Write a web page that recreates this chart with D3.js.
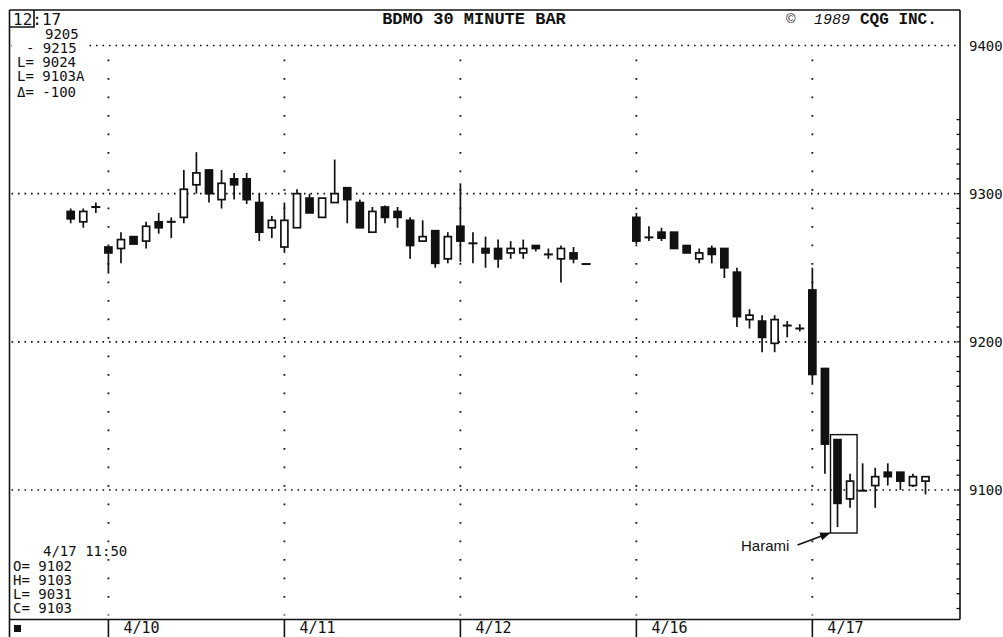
<!DOCTYPE html>
<html><head><meta charset="utf-8">
<script src="https://cdn.jsdelivr.net/npm/d3@7"></script>
<style>body{margin:0;background:#fff}svg{display:block}</style>
</head><body>
<svg id="c" width="1003" height="637"></svg>
<script>
// ---- data (30-minute bars; slot = bar position on the time axis) ----
const slots  = [0,1,2,3,4,5,6,7,8,9,10,11,12,13,14,15,16,17,18,19,20,21,22,23,24,25,26,27,28,29,30,31,32,33,34,35,36,37,38,39,40,41,45,46,47,48,49,50,51,52,53,54,55,56,57,58,59,60,61,62,63,64,65,66,67,68];
const opens  = [9288,9281,9291,9264,9263,9271,9268,9281,9281,9284,9306,9316,9296,9310,9310,9294,9277,9264,9277,9297,9284,9294,9304,9294,9274,9291,9288,9282,9268,9275,9256,9278,9266.5,9263,9263,9260,9260,9265,9259,9256,9260,9252.5,9284,9270.5,9274,9274,9265,9256,9263,9263,9247,9215,9214,9199,9211,9209,9235,9182,9134,9094,9099.5,9103,9112,9112,9103,9106];
const highs  = [9290,9290,9294,9264,9274,9271,9281,9287,9284,9316,9328,9316,9316,9314,9314,9300,9285,9294,9303,9300,9297,9323,9304,9296,9291,9292,9291,9284,9282,9275,9274,9307,9274,9271,9269,9268,9269,9265,9263,9265,9264,9252.5,9287,9278,9277,9274,9265,9263,9265,9263,9250,9222,9218,9218,9214,9212,9250,9182,9134,9111,9118,9115,9118,9112,9111,9109];
const lows   = [9280,9277,9287,9246,9253,9266,9263,9273,9270,9280,9300,9294,9290,9296,9293,9268,9270,9260,9277,9287,9284,9294,9280,9277,9274,9280,9277,9256,9268,9250,9253,9254,9253,9250,9250,9256,9256,9261,9256,9240,9253,9252.5,9266,9268,9268,9263,9260,9253,9253,9243,9210,9209,9193,9193,9203,9207,9171,9111,9075,9088,9099.5,9088,9103,9100,9102,9097];
const closes = [9283,9288,9291,9260,9269,9266,9278,9277,9281,9303,9314,9300,9307,9306,9296,9274,9282,9282,9300,9287,9297,9300,9296,9277,9288,9284,9284,9265,9271,9253,9271,9268,9266.5,9260,9256,9263,9263,9263,9259,9263,9256,9252.5,9268,9270.5,9270,9263,9260,9260,9259,9250,9217,9218,9203,9215,9211,9209,9178,9131,9091,9106,9099.5,9109,9109,9106,9109,9109];

const dayStarts  = [3,17,31,45,59];
const dayLabels  = ["4/10","4/11","4/12","4/16","4/17"];
const priceGrid  = [9100,9200,9300,9400];
const priceLabels= ["9100","9200","9300","9400"];
const infoTop    = ["9205","- 9215","L= 9024","L= 9103A","Δ= -100"];
const infoBottom = ["4/17 11:50","O= 9102","H= 9103","L= 9031","C= 9103"];
const clockText  = "12:17";
const titleText  = "BDMO 30 MINUTE BAR";
const haramiSlots = [61,62];
const haramiLabel = "Harami";

// ---- layout ----
const svg = d3.select("#c");
const L = 9.5, R = 960, T = 10, B = 619.5;
const x = d3.scaleLinear().domain([0,68]).range([70.7,925.5]);
const y = d3.scaleLinear().domain([9100,9400]).range([490,45.5]);
const mono = "'DejaVu Sans Mono', monospace";
const cour = "'Liberation Mono', 'Courier New', monospace";

svg.append("rect").attr("width",1003).attr("height",637).attr("fill","#fff");

// horizontal dotted grid
svg.append("g").selectAll("line").data(priceGrid).join("line")
  .attr("x1",L+2).attr("x2",R-4)
  .attr("y1",d=>y(d)).attr("y2",d=>y(d))
  .attr("stroke","#111").attr("stroke-width",1.6).attr("stroke-dasharray","1.6,4.9");

// vertical dotted day separators
svg.append("g").selectAll("line").data(dayStarts).join("line")
  .attr("x1",d=>x(d)).attr("x2",d=>x(d))
  .attr("y1",y(9400)+14).attr("y2",B-4)
  .attr("stroke","#111").attr("stroke-width",1.8).attr("stroke-dasharray","1.8,16.7");

// frame
const fr = svg.append("g").attr("stroke","#111").attr("stroke-width",1.6).attr("fill","none");
fr.append("line").attr("x1",L).attr("x2",R).attr("y1",T).attr("y2",T);
fr.append("line").attr("x1",L).attr("x2",L).attr("y1",T).attr("y2",637);
fr.append("line").attr("x1",R).attr("x2",R).attr("y1",T).attr("y2",B);
fr.append("line").attr("x1",L).attr("x2",R).attr("y1",B).attr("y2",B);
// clock box
fr.append("path").attr("d",`M${L},27 H34 V${T}`);

// right axis ticks
const rt = d3.range(9020,9351,10);
svg.append("g").selectAll("line").data(rt).join("line")
  .attr("x1",R-3.5).attr("x2",R).attr("y1",d=>y(d)).attr("y2",d=>y(d))
  .attr("stroke","#111").attr("stroke-width",1.3);

// right labels
svg.append("g").selectAll("text").data(priceGrid).join("text")
  .attr("x",969).attr("y",(d)=>y(d)+5)
  .attr("font-family",mono).attr("font-size",14).attr("fill","#111")
  .text((d,i)=>priceLabels[i]);

// date row
svg.append("g").selectAll("line").data(dayStarts).join("line")
  .attr("x1",d=>x(d)).attr("x2",d=>x(d)).attr("y1",B).attr("y2",637)
  .attr("stroke","#111").attr("stroke-width",1.6);
svg.append("g").selectAll("text").data(dayStarts).join("text")
  .attr("x",d=>x(d)+15).attr("y",633)
  .attr("font-family",mono).attr("font-size",15).attr("fill","#111")
  .text((d,i)=>dayLabels[i]);
svg.append("rect").attr("x",14).attr("y",625).attr("width",7).attr("height",7).attr("fill","#111");

// candles
const bars = slots.map((s,i)=>({s,o:opens[i],h:highs[i],l:lows[i],c:closes[i]}));
const bw = 7;
const cg = svg.append("g");
cg.selectAll("line.w").data(bars).join("line").attr("class","w")
  .attr("x1",d=>x(d.s)).attr("x2",d=>x(d.s))
  .attr("y1",d=>y(d.h)).attr("y2",d=>y(d.l))
  .attr("stroke","#111").attr("stroke-width",1.7);
const bodies = bars.filter(d=>Math.abs(y(d.o)-y(d.c))>=2);
cg.selectAll("rect.b").data(bodies).join("rect").attr("class","b")
  .attr("x",d=>x(d.s)-bw/2).attr("width",bw)
  .attr("y",d=>y(Math.max(d.o,d.c))).attr("height",d=>Math.abs(y(d.o)-y(d.c)))
  .attr("fill",d=>d.c>d.o?"#fff":"#111").attr("stroke","#111").attr("stroke-width",1.7);
const flat = bars.filter(d=>Math.abs(y(d.o)-y(d.c))<2);
cg.selectAll("line.f").data(flat).join("line").attr("class","f")
  .attr("x1",d=>x(d.s)-4.5).attr("x2",d=>x(d.s)+4.5)
  .attr("y1",d=>y((d.o+d.c)/2)).attr("y2",d=>y((d.o+d.c)/2))
  .attr("stroke","#111").attr("stroke-width",2);

// harami box + annotation
const hb = bars.filter(d=>haramiSlots.includes(d.s));
const hx0 = x(haramiSlots[0])-7, hx1 = x(haramiSlots[1])+7;
const hy0 = y(d3.max(hb,d=>d.h))-5, hy1 = y(d3.min(hb,d=>d.l))+6;
svg.append("rect").attr("x",hx0).attr("y",hy0).attr("width",hx1-hx0).attr("height",hy1-hy0)
  .attr("fill","none").attr("stroke","#111").attr("stroke-width",1.4);
svg.append("defs").append("marker").attr("id","ah").attr("viewBox","0 0 10 10")
  .attr("refX",9).attr("refY",5).attr("markerWidth",7).attr("markerHeight",7).attr("orient","auto")
  .append("path").attr("d","M0,1 L10,5 L0,9 Z").attr("fill","#111");
svg.append("line").attr("x1",hx0-33).attr("y1",hy1+12).attr("x2",hx0-1).attr("y2",hy1)
  .attr("stroke","#111").attr("stroke-width",1.5).attr("marker-end","url(#ah)");
svg.append("text").attr("x",741).attr("y",hy1+18)
  .attr("font-family","'Liberation Sans', Arial, sans-serif").attr("font-size",15).attr("fill","#111")
  .text(haramiLabel);

// header
svg.append("text").attr("x",13).attr("y",25).attr("font-family",mono).attr("font-size",16).attr("fill","#111").text(clockText);
svg.append("text").attr("x",474).attr("y",24).attr("text-anchor","middle").attr("font-family",cour)
  .attr("font-size",17).attr("font-weight","bold").attr("fill","#111").text(titleText);
svg.append("text").attr("x",786).attr("y",23).attr("font-family","'Liberation Sans',sans-serif").attr("font-size",13).attr("fill","#111").text("©");
svg.append("text").attr("x",814).attr("y",24).attr("font-family",cour).attr("font-style","italic").attr("font-size",15).attr("fill","#111").text("1989");
svg.append("text").attr("x",860).attr("y",24).attr("font-family",cour).attr("font-weight","bold").attr("font-size",16).attr("fill","#111").text("CQG INC.");

// info blocks
const topX = [45,26,17,17,17], topY = [39,53,67,81,97];
const tb = svg.append("g");
tb.append("rect").attr("x",12).attr("y",29).attr("width",75).attr("height",72).attr("fill","#fff");
tb.selectAll("text").data(infoTop).join("text")
  .attr("x",(d,i)=>topX[i]).attr("y",(d,i)=>topY[i])
  .attr("font-family",mono).attr("font-size",14).attr("fill","#111").text(d=>d);
const botX = [43,13,13,13,13], botY = [556,571,585,599,613];
svg.append("g").selectAll("text").data(infoBottom).join("text")
  .attr("x",(d,i)=>botX[i]).attr("y",(d,i)=>botY[i])
  .attr("font-family",mono).attr("font-size",14).attr("fill","#111").text(d=>d);
</script>
</body></html>
